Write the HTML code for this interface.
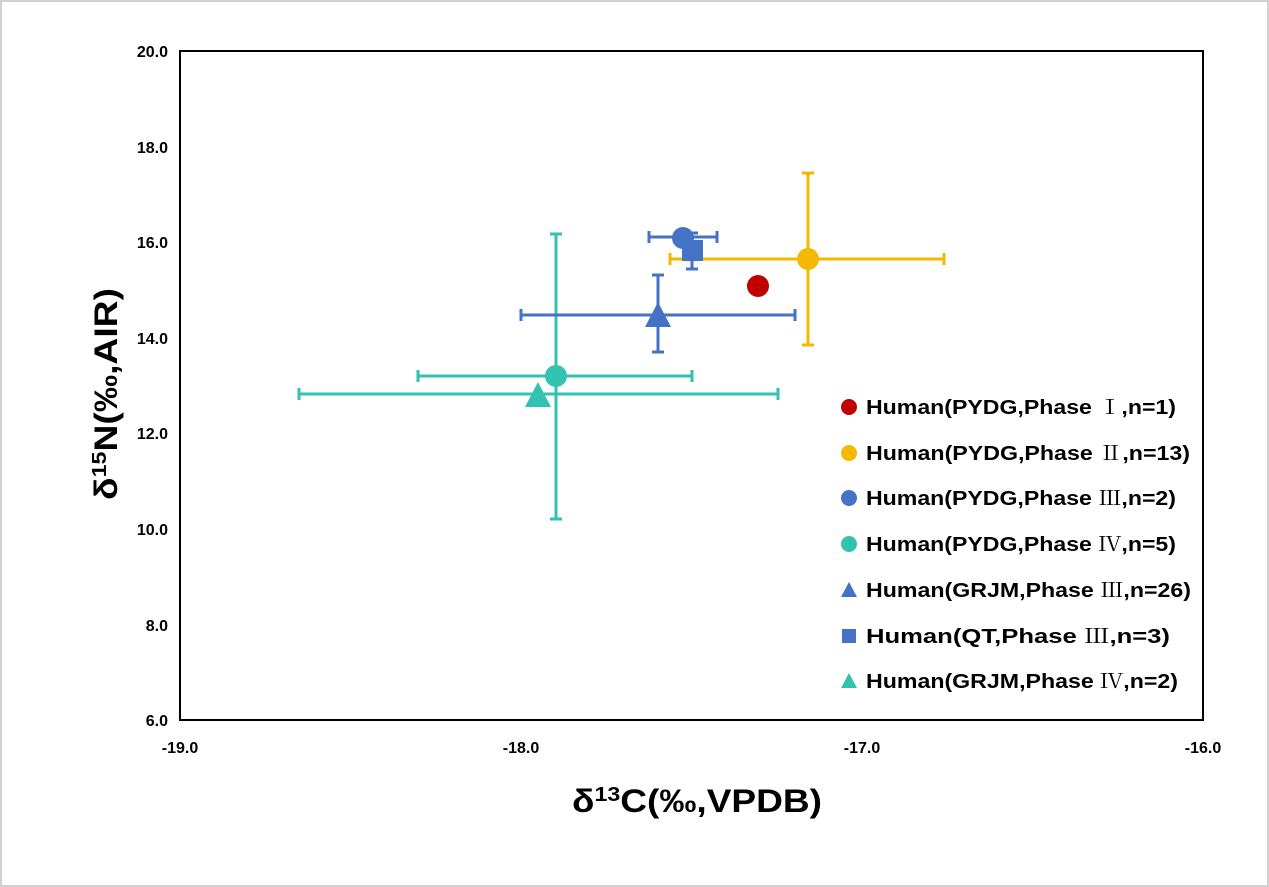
<!DOCTYPE html>
<html><head><meta charset="utf-8"><style>
html,body{margin:0;padding:0;background:#fff}
svg{display:block;font-family:"Liberation Sans","Noto Sans CJK SC",sans-serif}
.r{font-family:"Noto Serif CJK SC","Noto Sans CJK SC",serif;font-weight:normal}
</style></head><body>
<svg width="1269" height="887" viewBox="0 0 1269 887" xmlns="http://www.w3.org/2000/svg">
<rect x="1" y="1" width="1267" height="885" fill="#fff" stroke="#d0d0d0" stroke-width="2"/>
<rect x="180" y="51" width="1023" height="669" fill="none" stroke="#000" stroke-width="2"/>
<g font-size="16" font-weight="bold" text-anchor="end" fill="#000">
<text x="168" y="57">20.0</text><text x="168" y="153">18.0</text><text x="168" y="248">16.0</text>
<text x="168" y="344">14.0</text><text x="168" y="439">12.0</text><text x="168" y="535">10.0</text>
<text x="168" y="631">8.0</text><text x="168" y="726">6.0</text>
</g>
<g font-size="16" font-weight="bold" text-anchor="middle" fill="#000">
<text x="180" y="753">-19.0</text><text x="521" y="753">-18.0</text><text x="862" y="753">-17.0</text><text x="1203" y="753">-16.0</text>
</g>
<text x="572" y="812" font-size="32" font-weight="bold" textLength="250" lengthAdjust="spacingAndGlyphs">δ<tspan font-size="20" dy="-11">13</tspan><tspan dy="11">C(‰,VPDB)</tspan></text>
<text transform="translate(117,500) rotate(-90)" font-size="32" font-weight="bold" textLength="212" lengthAdjust="spacingAndGlyphs">δ<tspan font-size="20" dy="-11">15</tspan><tspan dy="11">N(‰,AIR)</tspan></text>
<g stroke="#F5B800" stroke-width="3" fill="none">
<path d="M670 259H944M670 253v12M944 253v12M808 173V345M802 173h12M802 345h12"/>
</g>
<circle cx="808" cy="259" r="11" fill="#F5B800"/>
<g stroke="#33C2B0" stroke-width="3" fill="none">
<path d="M418 376H692M418 370v12M692 370v12M556 234V519M550 234h12M550 519h12"/>
<path d="M299 394H778M299 388v12M778 388v12"/>
</g>
<circle cx="556" cy="376" r="11" fill="#33C2B0"/>
<polygon points="538,382 551,407 525,407" fill="#33C2B0"/>
<g stroke="#4472C4" stroke-width="3" fill="none">
<path d="M521 315H795M521 309v12M795 309v12M658 275V352M652 275h12M652 352h12"/>
<path d="M649 237H717M649 231v12M717 231v12"/>
<path d="M692 233V269M686 233h12M686 269h12"/>
</g>
<circle cx="683" cy="238" r="11" fill="#4472C4"/>
<rect x="682" y="240" width="21" height="21" fill="#4472C4"/>
<polygon points="658,302 671,327 645,327" fill="#4472C4"/>
<circle cx="758" cy="286" r="11" fill="#C00000"/>
<circle cx="849" cy="407" r="8" fill="#C00000"/>
<circle cx="849" cy="453" r="8" fill="#F5B800"/>
<circle cx="849" cy="498" r="8" fill="#4472C4"/>
<circle cx="849" cy="544" r="8" fill="#33C2B0"/>
<polygon points="849,582 857,597 841,597" fill="#4472C4"/>
<rect x="842" y="629" width="14" height="14" fill="#4472C4"/>
<polygon points="849,673 857,688 841,688" fill="#33C2B0"/>
<g font-size="20" font-weight="bold" fill="#000" lengthAdjust="spacingAndGlyphs">
<text x="866" y="414" textLength="310" lengthAdjust="spacingAndGlyphs">Human(PYDG,Phase <tspan class="r">Ⅰ</tspan>,n=1)</text>
<text x="866" y="460" textLength="324" lengthAdjust="spacingAndGlyphs">Human(PYDG,Phase <tspan class="r">Ⅱ</tspan>,n=13)</text>
<text x="866" y="505" textLength="310" lengthAdjust="spacingAndGlyphs">Human(PYDG,Phase <tspan class="r">Ⅲ</tspan>,n=2)</text>
<text x="866" y="551" textLength="310" lengthAdjust="spacingAndGlyphs">Human(PYDG,Phase <tspan class="r">Ⅳ</tspan>,n=5)</text>
<text x="866" y="597" textLength="325" lengthAdjust="spacingAndGlyphs">Human(GRJM,Phase <tspan class="r">Ⅲ</tspan>,n=26)</text>
<text x="866" y="643" textLength="304" lengthAdjust="spacingAndGlyphs">Human(QT,Phase <tspan class="r">Ⅲ</tspan>,n=3)</text>
<text x="866" y="688" textLength="312" lengthAdjust="spacingAndGlyphs">Human(GRJM,Phase <tspan class="r">Ⅳ</tspan>,n=2)</text>
</g>
</svg>
</body></html>
